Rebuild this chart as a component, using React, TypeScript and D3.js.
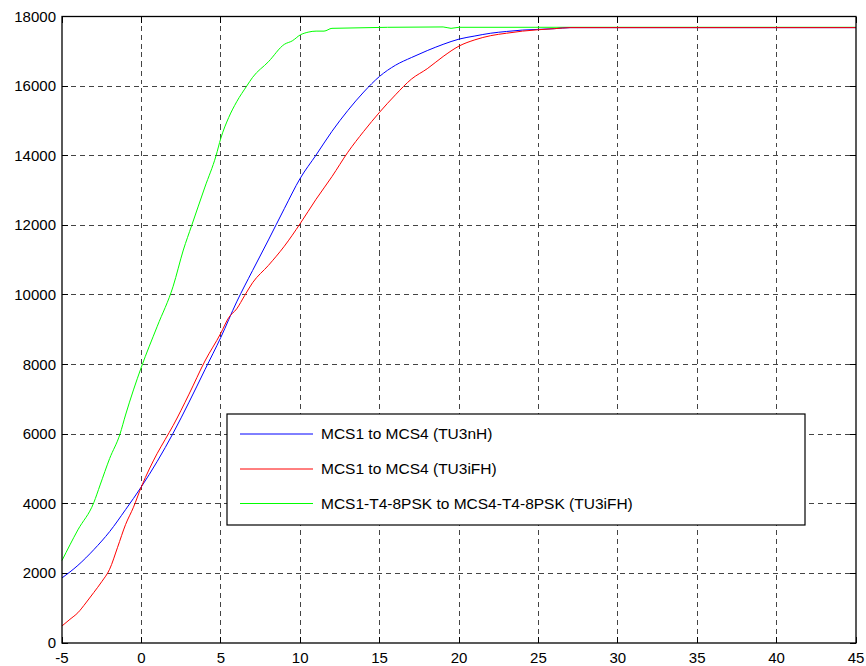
import React, { useEffect, useRef } from "react";
import * as d3 from "d3";

const xTicks = [-5, 0, 5, 10, 15, 20, 25, 30, 35, 40, 45];
const yTicks = [0, 2000, 4000, 6000, 8000, 10000, 12000, 14000, 16000, 18000];

const blueX = [-5, -4, -3, -2, -1, 0, 1, 2, 3, 4, 5, 6, 7, 8, 9, 10, 11, 12, 13, 14, 15, 16, 17, 18, 19, 20, 21, 22, 23, 24, 25, 26, 27, 45];
const blueY = [1870, 2230, 2680, 3200, 3830, 4490, 5220, 6030, 6920, 7850, 8780, 9800, 10700, 11580, 12480, 13350, 14020, 14700, 15300, 15830, 16280, 16600, 16820, 17020, 17200, 17350, 17440, 17520, 17570, 17610, 17630, 17650, 17680, 17680];

const redX = [-5, -4.5, -4, -3.5, -3, -2.5, -2, -1.5, -1, -0.5, 0, 0.5, 1, 1.5, 2, 3, 4, 5, 5.5, 6, 6.5, 7, 8, 9, 10, 11, 12, 13, 14, 15, 16, 17, 18, 19, 20, 21, 22, 23, 24, 25, 26, 27, 45];
const redY = [490, 680, 870, 1150, 1450, 1760, 2120, 2750, 3400, 3900, 4490, 5000, 5450, 5850, 6250, 7150, 8100, 8900, 9350, 9600, 9980, 10350, 10850, 11400, 12050, 12750, 13400, 14100, 14700, 15250, 15750, 16200, 16500, 16850, 17150, 17330, 17450, 17520, 17580, 17620, 17650, 17680, 17680];

const greenX = [-5, -4, -3, -2.6, -2, -1.35, -1, 0, 1, 2, 2.64, 3.17, 4, 4.7, 5, 5.5, 6, 6.63, 7, 8, 9, 9.5, 10, 10.5, 11, 11.5, 12, 19, 19.5, 20, 45];
const greenY = [2370, 3250, 4030, 4540, 5300, 6000, 6550, 7930, 9100, 10250, 11290, 12000, 13100, 14000, 14500, 15100, 15550, 16000, 16250, 16700, 17200, 17300, 17470, 17550, 17580, 17580, 17660, 17700, 17660, 17690, 17690];

const seriesNames = [
  "MCS1 to MCS4 (TU3nH)",
  "MCS1 to MCS4 (TU3iFH)",
  "MCS1-T4-8PSK to MCS4-T4-8PSK (TU3iFH)",
];
const seriesColors = ["#0000ff", "#ff0000", "#00ff00"];

export default function App() {
  const ref = useRef<SVGSVGElement>(null);

  useEffect(() => {
    const svg = d3.select(ref.current);
    svg.selectAll("*").remove();
    const L = 62, R = 856, T = 16.5, B = 643;
    const x = d3.scaleLinear().domain([-5, 45]).range([L, R]);
    const y = d3.scaleLinear().domain([0, 18000]).range([B, T]);
    const font = "'Liberation Sans', Arial, sans-serif";

    svg.append("rect").attr("width", 866).attr("height", 666).attr("fill", "#fff");

    const g = svg.append("g");
    // grid
    g.selectAll(".gx").data(xTicks.slice(1, -1)).enter().append("line")
      .attr("x1", d => x(d)).attr("x2", d => x(d)).attr("y1", T).attr("y2", B)
      .attr("stroke", "#444").attr("stroke-width", 1).attr("stroke-dasharray", "5,4").attr("shape-rendering", "crispEdges");
    g.selectAll(".gy").data(yTicks.slice(1, -1)).enter().append("line")
      .attr("x1", L).attr("x2", R).attr("y1", d => y(d)).attr("y2", d => y(d))
      .attr("stroke", "#444").attr("stroke-width", 1).attr("stroke-dasharray", "5,4").attr("shape-rendering", "crispEdges");

    // ticks on all sides
    xTicks.forEach(t => {
      g.append("line").attr("x1", x(t)).attr("x2", x(t)).attr("y1", B).attr("y2", B - 6).attr("stroke", "#000").attr("shape-rendering", "crispEdges");
      g.append("line").attr("x1", x(t)).attr("x2", x(t)).attr("y1", T).attr("y2", T + 6).attr("stroke", "#000").attr("shape-rendering", "crispEdges");
    });
    yTicks.forEach(t => {
      g.append("line").attr("x1", L).attr("x2", L + 6).attr("y1", y(t)).attr("y2", y(t)).attr("stroke", "#000").attr("shape-rendering", "crispEdges");
      g.append("line").attr("x1", R).attr("x2", R - 6).attr("y1", y(t)).attr("y2", y(t)).attr("stroke", "#000").attr("shape-rendering", "crispEdges");
    });

    // tick labels
    g.selectAll(".xl").data(xTicks).enter().append("text")
      .attr("x", d => x(d)).attr("y", 663).attr("text-anchor", "middle")
      .attr("font-family", font).attr("font-size", 15).attr("fill", "#000").text(d => String(d));
    g.selectAll(".yl").data(yTicks).enter().append("text")
      .attr("x", 56).attr("y", d => y(d) + 5).attr("text-anchor", "end")
      .attr("font-family", font).attr("font-size", 15).attr("fill", "#000").text(d => String(d));

    // lines
    const line = d3.line<[number, number]>().x(d => x(d[0])).y(d => y(d[1])).curve(d3.curveMonotoneX);
    const data: [number, number][][] = [
      blueX.map((v, i) => [v, blueY[i]] as [number, number]),
      redX.map((v, i) => [v, redY[i]] as [number, number]),
      greenX.map((v, i) => [v, greenY[i]] as [number, number]),
    ];
    const order = [2, 0, 1];
    order.forEach(i => {
      g.append("path").attr("d", line(data[i]) || "").attr("fill", "none")
        .attr("stroke", seriesColors[i]).attr("stroke-width", 1);
    });

    // box
    g.append("rect").attr("x", L).attr("y", T).attr("width", R - L).attr("height", B - T)
      .attr("fill", "none").attr("stroke", "#000").attr("stroke-width", 1.3);

    // legend
    const lg = g.append("g");
    lg.append("rect").attr("x", 227).attr("y", 414).attr("width", 578).attr("height", 111)
      .attr("fill", "#fff").attr("stroke", "#000").attr("stroke-width", 1.2);
    const ly = [434, 469, 503.5];
    seriesNames.forEach((n, i) => {
      lg.append("line").attr("x1", 240).attr("x2", 313).attr("y1", ly[i]).attr("y2", ly[i])
        .attr("stroke", seriesColors[i]).attr("stroke-width", 1);
      lg.append("text").attr("x", 321).attr("y", ly[i] + 5).attr("font-family", font)
        .attr("font-size", 15.5).attr("fill", "#000").text(n);
    });
  }, []);

  return (
    <svg ref={ref} width={866} height={666} style={{ position: "absolute", left: 0, top: 0 }} />
  );
}
